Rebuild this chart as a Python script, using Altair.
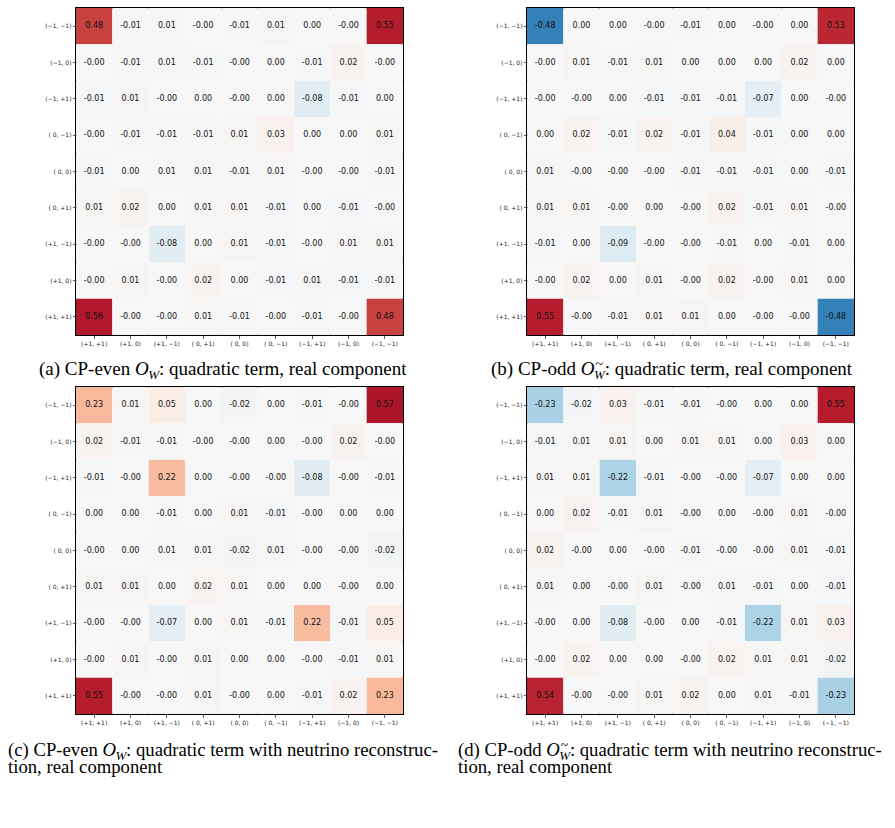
import altair as alt
import pandas as pd

ROW_LABELS = ["(−1, −1)", "(−1, 0)", "(−1, +1)", "(\u00a00, −1)", "(\u00a00, 0)",
              "(\u00a00, +1)", "(+1, −1)", "(+1, 0)", "(+1, +1)"]
COL_LABELS = ["(+1, +1)", "(+1, 0)", "(+1, −1)", "(\u00a00, +1)", "(\u00a00, 0)",
              "(\u00a00, −1)", "(−1, +1)", "(−1, 0)", "(−1, −1)"]

# rows top -> bottom, columns left -> right
PANEL_A = [
    [0.48, -0.01, 0.01, -0.00, -0.01, 0.01, 0.00, -0.00, 0.55],
    [-0.00, -0.01, 0.01, -0.01, -0.00, 0.00, -0.01, 0.02, -0.00],
    [-0.01, 0.01, -0.00, 0.00, -0.00, 0.00, -0.08, -0.01, 0.00],
    [-0.00, -0.01, -0.01, -0.01, 0.01, 0.03, 0.00, 0.00, 0.01],
    [-0.01, 0.00, 0.01, 0.01, -0.01, 0.01, -0.00, -0.00, -0.01],
    [0.01, 0.02, 0.00, 0.01, 0.01, -0.01, 0.00, -0.01, -0.00],
    [-0.00, -0.00, -0.08, 0.00, 0.01, -0.01, -0.00, 0.01, 0.01],
    [-0.00, 0.01, -0.00, 0.02, 0.00, -0.01, 0.01, -0.01, -0.01],
    [0.56, -0.00, -0.00, 0.01, -0.01, -0.00, -0.01, -0.00, 0.48],
]
PANEL_B = [
    [-0.48, 0.00, 0.00, -0.00, -0.01, 0.00, -0.00, 0.00, 0.53],
    [-0.00, 0.01, -0.01, 0.01, 0.00, 0.00, 0.00, 0.02, 0.00],
    [-0.00, -0.00, 0.00, -0.01, -0.01, -0.01, -0.07, 0.00, -0.00],
    [0.00, 0.02, -0.01, 0.02, -0.01, 0.04, -0.01, 0.00, 0.00],
    [0.01, -0.00, -0.00, -0.00, -0.01, -0.01, -0.01, 0.00, -0.01],
    [0.01, 0.01, -0.00, 0.00, -0.00, 0.02, -0.01, 0.01, -0.00],
    [-0.01, 0.00, -0.09, -0.00, -0.00, -0.01, 0.00, -0.01, 0.00],
    [-0.00, 0.02, 0.00, 0.01, -0.00, 0.02, -0.00, 0.01, 0.00],
    [0.55, -0.00, -0.01, 0.01, 0.01, 0.00, -0.00, -0.00, -0.48],
]
PANEL_C = [
    [0.23, 0.01, 0.05, 0.00, -0.02, 0.00, -0.01, -0.00, 0.57],
    [0.02, -0.01, -0.01, -0.00, -0.00, 0.00, -0.00, 0.02, -0.00],
    [-0.01, -0.00, 0.22, 0.00, -0.00, -0.00, -0.08, -0.00, -0.01],
    [0.00, 0.00, -0.01, 0.00, 0.01, -0.01, -0.00, 0.00, 0.00],
    [-0.00, 0.00, 0.01, 0.01, -0.02, 0.01, -0.00, -0.00, -0.02],
    [0.01, 0.01, 0.00, 0.02, 0.01, 0.00, 0.00, -0.00, 0.00],
    [-0.00, -0.00, -0.07, 0.00, 0.01, -0.01, 0.22, -0.01, 0.05],
    [-0.00, 0.01, -0.00, 0.01, 0.00, 0.00, -0.00, -0.01, 0.01],
    [0.55, -0.00, -0.00, 0.01, -0.00, 0.00, -0.01, 0.02, 0.23],
]
PANEL_D = [
    [-0.23, -0.02, 0.03, -0.01, -0.01, -0.00, 0.00, 0.00, 0.55],
    [-0.01, 0.01, 0.01, 0.00, 0.01, 0.01, 0.00, 0.03, 0.00],
    [0.01, 0.01, -0.22, -0.01, -0.00, -0.00, -0.07, 0.00, 0.00],
    [0.00, 0.02, -0.01, 0.01, -0.00, 0.00, -0.00, 0.01, -0.00],
    [0.02, -0.00, 0.00, -0.00, -0.01, -0.00, -0.00, 0.01, -0.01],
    [0.01, 0.00, -0.00, 0.01, -0.00, 0.01, -0.01, 0.00, -0.01],
    [-0.00, 0.00, -0.08, -0.00, 0.00, -0.01, -0.22, 0.01, 0.03],
    [-0.00, 0.02, 0.00, 0.00, -0.00, 0.02, 0.01, 0.01, -0.02],
    [0.54, -0.00, -0.00, 0.01, 0.02, 0.00, 0.01, -0.01, -0.23],
]

CAP_A = ["(a) CP-even ", ": quadratic term, real component"]
CAP_B = ["(b) CP-odd ", ": quadratic term, real component"]
CAP_C = ["(c) CP-even ", ": quadratic term with neutrino reconstruc-", "tion, real component"]
CAP_D = ["(d) CP-odd ", ": quadratic term with neutrino reconstruc-", "tion, real component"]

RDBU_R = ["#053061", "#2166ac", "#4393c3", "#92c5de", "#d1e5f0", "#f7f7f7",
          "#fddbc7", "#f4a582", "#d6604d", "#b2182b", "#67001f"]
VMAX = 0.7
DOMAIN = [round(-VMAX + i * (2 * VMAX / 10), 4) for i in range(11)]

SIZE = 327
SERIF = "Liberation Serif"
CAP_FS = 19


def frame(vals):
    recs = []
    for i, r in enumerate(ROW_LABELS):
        for j, c in enumerate(COL_LABELS):
            v = vals[i][j]
            recs.append({"row": r, "col": c, "value": v, "label": f"{v:.2f}"})
    return pd.DataFrame(recs)


def txt(s, x, y, size=CAP_FS, style="normal"):
    return alt.Chart(pd.DataFrame({"t": [s]})).mark_text(
        font=SERIF, fontSize=size, fontStyle=style, align="left",
        baseline="alphabetic", color="black"
    ).encode(x=alt.value(x), y=alt.value(y), text="t:N")


def caption(parts, start, y, tilde, size=CAP_FS):
    scale = size / 19.0
    w1 = {"(a) CP-even ": 96.0, "(c) CP-even ": 96.0,
          "(b) CP-odd ": 89.7, "(d) CP-odd ": 89.7}[parts[0]] * scale
    ox = start + w1
    wx = ox + 13.2 * scale
    rx = wx + 10.8 * scale
    layers = [
        txt(parts[0], start, y, size=size),
        txt("O", ox, y, size=size, style="italic"),
        txt("W", wx, y + 4, size=13, style="italic"),
        txt(parts[1], rx, y, size=size),
    ]
    if tilde:
        layers.append(txt("~", wx + 1.5, y - 6, size=14))
    if len(parts) > 2:
        layers.append(txt(parts[2], start, y + 17, size=size))
    return layers


def panel(vals, caps):
    df = frame(vals)
    base = alt.Chart(df).encode(
        x=alt.X("col:N", sort=COL_LABELS,
                scale=alt.Scale(paddingInner=0, paddingOuter=0),
                axis=alt.Axis(title=None, labelAngle=0, labelFontSize=6,
                              labelFont="DejaVu Sans")),
        y=alt.Y("row:N", sort=ROW_LABELS,
                scale=alt.Scale(paddingInner=0, paddingOuter=0),
                axis=alt.Axis(title=None, labelFontSize=6, labelFont="DejaVu Sans")),
    )
    rect = base.mark_rect().encode(
        color=alt.Color("value:Q",
                        scale=alt.Scale(domain=DOMAIN, range=RDBU_R, interpolate="rgb"),
                        legend=None)
    )
    text = base.mark_text(font="DejaVu Sans", fontSize=8, color="#111").encode(
        text="label:N"
    )
    return alt.layer(rect, text, *caps).properties(width=SIZE, height=SIZE)


pa = panel(PANEL_A, caption(CAP_A, -37, 367, False))
pb = panel(PANEL_B, caption(CAP_B, -36, 367, True))
pc = panel(PANEL_C, caption(CAP_C, -68, 369, False, size=18.7))
pdd = panel(PANEL_D, caption(CAP_D, -69, 369, True, size=18.7))

chart = alt.concat(
    pa, pb, pc, pdd, columns=2, bounds="flush",
    spacing={"row": 52, "column": 124}
).properties(
    padding={"left": 7, "top": 7, "right": 0, "bottom": 0},
    background="white"
).configure_view(
    stroke="black", strokeWidth=2
).configure_axis(
    labelFont="DejaVu Sans", labelFontSize=6, labelColor="#222",
    tickColor="#333", tickSize=3.5, tickWidth=0.8, domain=False,
    labelPadding=1.5
)

chart.save("out.html", embed_options={"renderer": "svg", "actions": False})
